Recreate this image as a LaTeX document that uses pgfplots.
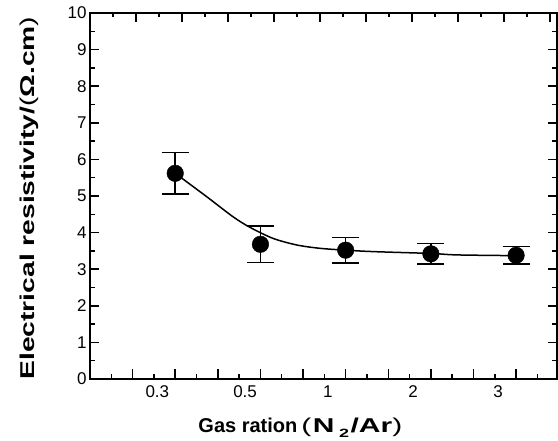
\documentclass[border=0pt]{standalone}
\usepackage{fontspec}
\setmainfont{Liberation Sans}
\usepackage{pgfplots}
\pgfplotsset{compat=1.18}
\begin{document}
\begin{tikzpicture}
\useasboundingbox (-90bp,-62bp) rectangle (468bp,379bp);
% top ticks (different spacing in the original figure)
\begin{axis}[
  scale only axis, width=467bp, height=366bp,
  at={(0,0)}, anchor=south west,
  xmin=0, xmax=5.48, ymin=0, ymax=10,
  axis line style={draw=none},
  every tick/.style={line width=1.5bp, black},
  major tick length=9bp, minor tick length=4.5bp,
  tick align=inside, xtick pos=right,
  xtick={0.54,1.08,...,5.45}, minor xtick={0.27,0.81,...,5.2},
  xticklabels={}, ytick=\empty,
]
\end{axis}
\begin{axis}[
  scale only axis, width=467bp, height=366bp,
  at={(0,0)}, anchor=south west,
  xmin=0, xmax=5.48, ymin=0, ymax=10,
  axis line style={line width=1.8bp},
  every tick/.style={line width=1.5bp, black},
  major tick length=9.5bp, minor tick length=5bp,
  tick align=inside, xtick pos=left, ytick pos=both,
  xtick={0.5,1,...,5.1}, minor xtick={0.25,0.75,...,5.3}, xticklabels={},
  extra x ticks={0.79,1.82,2.79,3.79,4.79},
  extra x tick labels={0.3,0.5,1,2,3},
  extra x tick style={major tick length=0pt, tick label style={yshift=-3bp}},
  ytick={0,1,...,10}, minor ytick={0.5,1.5,...,9.5},
  /pgf/number format/assume math mode=true,
  tick label style={font=\fontsize{17bp}{17bp}\selectfont},
  xlabel={\textbf{Gas ration}\hspace{4bp}\scalebox{1.5}[1]{(\hspace{1bp}\textbf{N}\hspace{3bp}\raisebox{-4.5bp}{\fontsize{12bp}{12bp}\selectfont\textbf{2}}\hspace{1bp}\textbf{/Ar})}},
  ylabel={\scalebox{1.41}[1]{\textbf{Electrical resistivity/}(\textbf{Ω.cm})}},
  label style={font=\fontsize{20bp}{20bp}\selectfont},
  xlabel style={at={(axis description cs:0.2248,-0.1475)}, anchor=base west},
  ylabel style={at={(axis description cs:-0.1178,-0.011)}, anchor=base west},
  clip=false,
]
\addplot[black, line width=1.5bp, smooth, no marks] coordinates {
 (1.0,5.62) (1.37,4.98) (1.68,4.43) (1.88,4.14) (2.15,3.84) (2.43,3.66)
 (2.70,3.57) (3.0,3.52) (3.33,3.48) (4.0,3.43) (4.31,3.39) (5.0,3.37)};
\addplot[black, only marks, mark=*, mark size=8.3bp,
  error bars/.cd, y dir=both, y explicit,
  error bar style={line width=1.6bp},
  error mark options={rotate=90, mark size=13.5bp, line width=1.6bp}]
  coordinates {
  (1,5.62) +- (0,0.57)
  (2,3.68) +- (0,0.5)
  (3,3.52) +- (0,0.35)
  (4,3.42) +- (0,0.28)
  (5,3.38) +- (0,0.24)
};
\end{axis}
\end{tikzpicture}
\end{document}
